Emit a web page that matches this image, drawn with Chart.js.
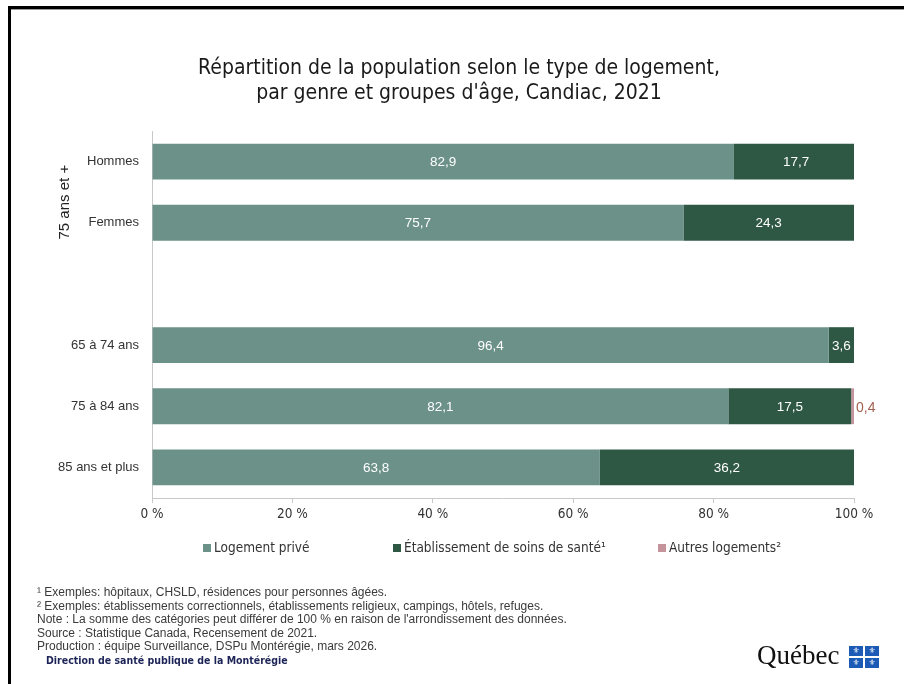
<!DOCTYPE html>
<html lang="fr">
<head>
<meta charset="utf-8">
<script src="https://cdn.jsdelivr.net/npm/chart.js@4.4.1/dist/chart.umd.min.js"></script>
<style>
  html, body { margin:0; padding:0; background:#fff; }
  body { width:904px; height:684px; position:relative; overflow:hidden; font-family:"Liberation Sans", Arial, sans-serif; }
  #frameTop { position:absolute; left:8px; top:6px; width:896px; height:3px; background:#000; }
  #frameTopShadow { position:absolute; left:10px; top:9px; width:894px; height:1px; background:#9a9a9a; }
  #frameLeft { position:absolute; left:8px; top:6px; width:3px; height:678px; background:#000; }
  #wrap { position:absolute; left:0; top:0; width:904px; height:684px; }
  .title { position:absolute; left:0; width:918px; text-align:center; font-family:"Liberation Sans Narrow","DejaVu Sans Condensed",sans-serif; font-size:21px; color:#1a1a1a; line-height:25px; }
  .legend { position:absolute; top:539px; font-family:"Liberation Sans Narrow","DejaVu Sans Condensed",sans-serif; font-size:13.5px; color:#333; line-height:16px; white-space:nowrap; }
  .legend i { display:inline-block; width:8px; height:8px; margin-right:3px; vertical-align:0px; }
  .notes { position:absolute; left:37px; top:586px; font-size:12px; line-height:13.5px; color:#3a3a3a; white-space:nowrap; }
  .dir { position:absolute; left:46px; top:654px; font-family:"Liberation Sans Narrow","DejaVu Sans Condensed",sans-serif; font-weight:bold; font-size:10.5px; color:#1c2457; white-space:nowrap; }
  .qc { position:absolute; left:757px; top:640px; font-family:"Liberation Serif","DejaVu Serif",serif; font-size:27px; color:#111; line-height:30px; }
  .flag { position:absolute; left:849px; top:646px; width:30px; height:22px; background:#1c5bb5; }
  .flag .h { position:absolute; left:0; top:10px; width:30px; height:2px; background:#fff; }
  .flag .v { position:absolute; left:14px; top:0; width:2px; height:22px; background:#fff; }
  .flag span { position:absolute; color:#fff; font-size:8px; line-height:8px; width:14px; text-align:center; font-family:"DejaVu Sans",sans-serif; }
</style>
</head>
<body>
<div id="wrap"><canvas id="c" width="904" height="684"></canvas></div>
<div id="frameTop"></div><div id="frameTopShadow"></div><div id="frameLeft"></div>
<div class="title" style="top:55px">Répartition de la population selon le type de logement,</div>
<div class="title" style="top:80px">par genre et groupes d'âge, Candiac, 2021</div>
<div id="legend"></div>
<div class="notes">
¹ Exemples: hôpitaux, CHSLD, résidences pour personnes âgées.<br>
² Exemples: établissements correctionnels, établissements religieux, campings, hôtels, refuges.<br>
Note : La somme des catégories peut différer de 100 % en raison de l'arrondissement des données.<br>
Source : Statistique Canada, Recensement de 2021.<br>
Production : équipe Surveillance, DSPu Montérégie, mars 2026.
</div>
<div class="dir">Direction de santé publique de la Montérégie</div>
<div class="qc">Québec</div>
<div class="flag"><div class="h"></div><div class="v"></div>
  <span style="left:0;top:1px">⚜</span><span style="left:16px;top:1px">⚜</span>
  <span style="left:0;top:13px">⚜</span><span style="left:16px;top:13px">⚜</span>
</div>
<script>
const categories = ['Hommes', 'Femmes', '', '65 à 74 ans', '75 à 84 ans', '85 ans et plus'];
const seriesNames = ['Logement privé', 'Établissement de soins de santé¹', 'Autres logements²'];
const logementPrive = [82.9, 75.7, null, 96.4, 82.1, 63.8];
const etablissementSante = [17.7, 24.3, null, 3.6, 17.5, 36.2];
const autresLogements = [null, null, null, null, 0.4, null];
const xTicks = [0, 20, 40, 60, 80, 100];
const groupLabel = '75 ans et +';
const colors = ['#6b9189', '#2e5844', '#c4939b'];
const legendX = [203, 393, 658];

const narrow = '"Liberation Sans Narrow","DejaVu Sans Condensed",sans-serif';
const sans = '"Liberation Sans", Arial, sans-serif';
const fmt = v => v.toFixed(1).replace('.', ',');

// HTML legend
const lg = document.getElementById('legend');
seriesNames.forEach((n, i) => {
  const d = document.createElement('div');
  d.className = 'legend';
  d.style.left = legendX[i] + 'px';
  d.innerHTML = '<i style="background:' + colors[i] + '"></i>' + n;
  lg.appendChild(d);
});

const valueLabels = {
  id: 'valueLabels',
  afterDatasetsDraw(chart) {
    const ctx = chart.ctx;
    ctx.save();
    ctx.textBaseline = 'middle';
    chart.data.datasets.forEach((ds, di) => {
      const meta = chart.getDatasetMeta(di);
      meta.data.forEach((el, i) => {
        const v = ds.data[i];
        if (v === null || v === undefined) return;
        const p = el.getProps(['x', 'y', 'base'], true);
        if (di < 2) {
          ctx.font = '13.5px ' + sans;
          ctx.fillStyle = '#ffffff';
          ctx.textAlign = 'center';
          ctx.fillText(fmt(v), (p.x + p.base) / 2, p.y + 1);
        } else {
          ctx.font = '14px ' + sans;
          ctx.fillStyle = '#a0604e';
          ctx.textAlign = 'left';
          ctx.fillText(fmt(v), p.x + 2, p.y + 2);
        }
      });
    });
    // group label
    const ys = chart.scales.y;
    const yc = (ys.getPixelForValue(0) + ys.getPixelForValue(1)) / 2 + 10;
    ctx.translate(65, yc);
    ctx.rotate(-Math.PI / 2);
    ctx.fillStyle = '#222';
    ctx.textAlign = 'center';
    ctx.font = '15px ' + sans;
    ctx.fillText(groupLabel, 0, 0);
    ctx.restore();
  }
};

new Chart(document.getElementById('c'), {
  type: 'bar',
  data: {
    labels: categories,
    datasets: [
      { label: seriesNames[0], data: logementPrive, backgroundColor: colors[0] },
      { label: seriesNames[1], data: etablissementSante, backgroundColor: colors[1] },
      { label: seriesNames[2], data: autresLogements, backgroundColor: colors[2] }
    ]
  },
  options: {
    indexAxis: 'y',
    responsive: false,
    animation: false,
    devicePixelRatio: 1,
    layout: { padding: { left: 0, top: 131, right: 50, bottom: 156 } },
    datasets: { bar: { categoryPercentage: 1, barPercentage: 0.585, borderWidth: 0 } },
    plugins: { legend: { display: false }, tooltip: { enabled: false }, title: { display: false } },
    scales: {
      x: {
        stacked: true, min: 0, max: 100,
        afterBuildTicks: s => { s.ticks = xTicks.map(v => ({ value: v })); },
        afterFit: s => { s.height = 30; },
        ticks: { callback: v => v + ' %', font: { family: narrow, size: 13.5 }, color: '#333', padding: 3 },
        grid: { drawOnChartArea: false, drawTicks: true, tickLength: 5, color: '#c8c8c8' },
        border: { color: '#c8c8c8' }
      },
      y: {
        stacked: true,
        afterFit: s => { s.width = 152; },
        ticks: { font: { family: sans, size: 13 }, color: '#333', padding: 5 },
        grid: { display: false },
        border: { display: true, color: '#c8c8c8' }
      }
    }
  },
  plugins: [valueLabels]
});
</script>
</body>
</html>
